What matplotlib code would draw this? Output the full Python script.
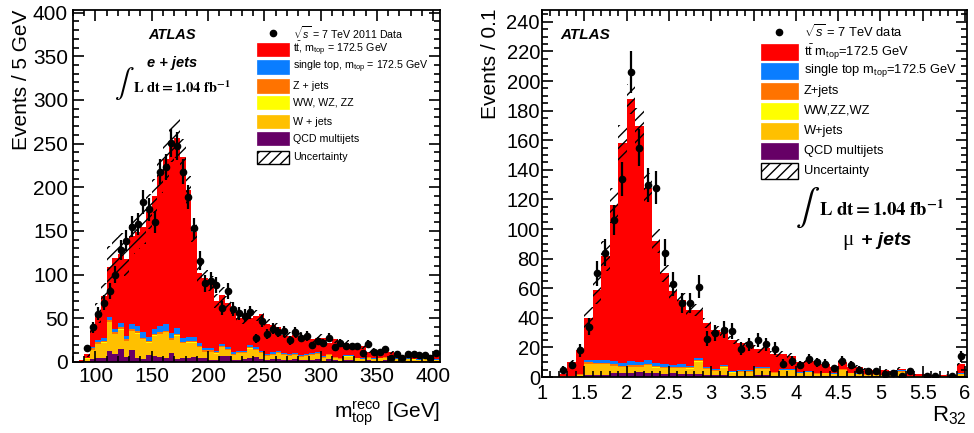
import numpy as np
import matplotlib
matplotlib.use('Agg')
import matplotlib.pyplot as plt
from matplotlib.patches import Rectangle
from matplotlib.ticker import MultipleLocator, FuncFormatter

plt.rcParams['font.family'] = ['Liberation Sans', 'DejaVu Sans']
plt.rcParams['mathtext.fontset'] = 'custom'
plt.rcParams['mathtext.rm'] = 'Liberation Sans'
plt.rcParams['mathtext.it'] = 'Liberation Sans:italic'
plt.rcParams['mathtext.bf'] = 'Liberation Sans:bold'
plt.rcParams['hatch.linewidth'] = 1.0
plt.rcParams['hatch.color'] = 'black'

# colours of the stack (bottom to top)
col_qcd = '#660066'
col_w = '#ffc000'
col_vv = '#ffff00'
col_z = '#ff7300'
col_st = '#0a7dff'
col_tt = '#ff0000'

# ---------------- e + jets : m_top reco, 5 GeV bins from 80 GeV ----------------
left_edges = np.arange(80, 410, 5)

left_data = [0, 0, 16, 40, 55, 68, 81, 100, 128, 139,
             155, 158, 183, 175, 160, 218, 223, 251, 247, 218,
             189, 153, 116, 90, 93, 88, 62, 81, 61, 56,
             53, 57, 27, 47, 32, 38, 34, 35, 25, 34,
             28, 30, 19, 24, 22, 28, 17, 22, 18, 18,
             18, 10, 21, 11, 11, 15, 4, 9, 5, 9,
             9, 8, 8, 5, 10]

left_qcd = [0, 0.3, 1, 3, 4, 4.5, 13, 9, 14.5, 5.5,
            13.5, 5, 3, 7.5, 6.5, 5.5, 4, 10, 3, 4,
            5, 5.5, 5, 4, 2.5, 2.5, 6.5, 6.5, 2, 2.5,
            3.5, 5, 5.5, 3, 2, 3, 3.5, 2.5, 2, 3,
            2, 2.5, 2, 3, 1.5, 3, 2, 1.5, 2.5, 2,
            1.5, 1, 2, 1, 1.5, 2.5, 1, 1.5, 1, 1,
            1, 1, 1.5, 1, 1]

left_wjets = [0, 0.5, 2.9, 10.8, 16.7, 17.7, 32.6, 22.6, 22.6, 18.2,
              22.1, 27.6, 23.2, 14.7, 23.7, 26.7, 30.2, 15.2, 27.2, 17.2,
              17.2, 16.7, 11.7, 7.7, 9.2, 7.2, 10.2, 7.2, 6.3, 7.8,
              6.8, 10.3, 8.3, 6.8, 4.8, 5.3, 6.8, 5.3, 5.0, 5.0,
              4.0, 4.5, 6.0, 6.0, 3.5, 5.0, 2.7, 2.3, 3.7, 4.2,
              2.5, 2.0, 3.0, 2.0, 2.5, 2.5, 1.8, 1.8, 1.3, 2.3,
              1.8, 1.3, 1.8, 1.3, 1.3]

left_diboson = [0, 0, 0.1, 0.2, 0.3, 0.3, 0.4, 0.4, 0.4, 0.3,
                0.4, 0.4, 0.3, 0.3, 0.3, 0.3, 0.3, 0.3, 0.3, 0.3,
                0.3, 0.3, 0.3, 0.3, 0.3, 0.3, 0.3, 0.3, 0.2, 0.2,
                0.2, 0.2, 0.2, 0.2, 0.2, 0.2, 0.2, 0.2, 0.2, 0.2,
                0.2, 0.2, 0.2, 0.2, 0.1, 0.1, 0.1, 0.1, 0.1, 0.1,
                0.1, 0.1, 0.1, 0.1, 0.1, 0.1, 0.1, 0.1, 0.1, 0.1,
                0.1, 0.1, 0.1, 0.1, 0.1]

left_zjets = [0, 0.1, 0.5, 1.5, 2, 2, 2, 2, 2.5, 2,
              2, 2, 1.5, 1.5, 1.5, 1.5, 1.5, 1.5, 1.5, 1.5,
              1.5, 1.5, 1.5, 1.5, 1.5, 1, 1.5, 1, 1, 1,
              1, 1.5, 1, 1, 1, 1, 1, 1, 0.8, 0.8,
              0.8, 0.8, 0.8, 0.8, 0.6, 0.6, 0.5, 0.5, 0.5, 0.5,
              0.4, 0.4, 0.4, 0.4, 0.4, 0.4, 0.3, 0.3, 0.3, 0.3,
              0.3, 0.3, 0.3, 0.3, 0.3]

left_stop = [0, 0.1, 0.5, 1.5, 2, 2.5, 4, 4, 5, 4,
             5, 6, 6, 5, 6, 7, 7, 6, 7, 5,
             5, 5, 3.5, 2.5, 2.5, 2, 2.5, 2, 1.5, 1.5,
             1.5, 2, 2, 1.5, 1, 1.5, 1.5, 1, 1, 1,
             1, 1, 1, 1, 0.8, 0.8, 0.7, 0.6, 0.7, 0.7,
             0.5, 0.5, 0.5, 0.5, 0.5, 0.5, 0.3, 0.3, 0.3, 0.3,
             0.3, 0.3, 0.3, 0.3, 0.3]

left_ttbar = [0.5, 1, 4, 20, 31, 49, 57, 81, 79, 88,
              101, 108, 121, 143, 152, 173, 189, 218, 217, 207,
              168, 120, 80, 80, 74, 57, 56, 51, 51, 37,
              37, 31, 36, 42.5, 35, 31, 27, 21, 21, 21,
              22, 20, 16, 17, 21.5, 12.5, 20, 15, 14.5, 10.5,
              13, 14, 6, 10, 8, 7, 7.5, 5, 4, 5,
              6.5, 6, 5, 5, 5]

left_unc = [0, 1, 3, 8, 11, 14, 24, 24, 24, 20,
            20, 20, 20, 20, 20, 20, 22, 22, 22, 20,
            16, 12, 10, 9, 9, 8, 9, 8, 7, 6,
            6, 6, 6, 6, 5, 5, 5, 4, 4, 4,
            4, 4, 4, 4, 4, 3, 4, 3, 3, 3,
            3, 3, 2, 2, 2, 2, 2, 2, 1.5, 1.5,
            1.5, 1.5, 1.5, 1.5, 1.5]

# ---------------- mu + jets : R32, 0.1 bins from 1 to 6 ----------------
right_edges = np.linspace(1.0, 6.0, 51)

right_data = [0, 0, 5, 8, 18, 34, 70, 84, 106, 134,
              206, 155, 130, 128, 84, 63, 50, 50, 61, 26,
              30, 32, 31, 19, 22, 25, 22, 19, 9, 11,
              8, 12, 10, 9, 6, 11, 8, 5, 4, 4,
              2, 3, 1, 4, 0, 1, 1, 0, 1, 14]

right_qcd = [0, 0, 0.1, 0.3, 0.5, 1.5, 1.5, 1.5, 2.5, 2.5,
             2.5, 3.5, 3, 2.5, 2, 2.5, 2, 2, 2, 1.5,
             1.5, 1.5, 0.8, 1, 1, 1.5, 1.5, 0.8, 1, 1,
             0.8, 0.8, 0.6, 0.7, 0.5, 1, 0.6, 0.5, 0.4, 0.4,
             0.3, 0.3, 0.5, 0.2, 0.1, 0.1, 0.1, 0.1, 0.1, 0.5]

right_wjets = [0, 0, 0.25, 0.4, 0.95, 7.3, 7.1, 7.0, 5.0, 4.0,
               4.4, 3.4, 4.8, 3.9, 4.0, 3.3, 4.1, 3.6, 8.3, 3.7,
               2.7, 4.9, 2.2, 2.4, 2.4, 4.0, 3.7, 1.9, 3.5, 3.5,
               1.8, 2.4, 1.5, 1.7, 1.5, 3.7, 1.9, 1.5, 1.1, 1.1,
               0.9, 0.9, 2.7, 0.55, 0.35, 0.35, 0.3, 0.3, 0.2, 1.4]

right_diboson = [0, 0, 0, 0, 0.05, 0.2, 0.2, 0.2, 0.2, 0.2,
                 0.2, 0.2, 0.2, 0.2, 0.2, 0.2, 0.2, 0.2, 0.2, 0.2,
                 0.1, 0.2, 0.1, 0.1, 0.1, 0.1, 0.1, 0.1, 0.1, 0.1,
                 0.1, 0.1, 0.1, 0.1, 0.1, 0.1, 0.1, 0.1, 0.1, 0.1,
                 0.1, 0.1, 0.5, 0.05, 0, 0, 0, 0, 0, 0.1]

right_zjets = [0, 0, 0.05, 0.1, 0.2, 1, 1, 1, 0.8, 0.8,
               0.8, 0.8, 0.8, 0.8, 0.8, 0.7, 0.7, 0.7, 1, 0.6,
               0.5, 0.6, 0.4, 0.4, 0.4, 0.5, 0.5, 0.3, 0.4, 0.4,
               0.3, 0.3, 0.2, 0.2, 0.2, 0.4, 0.2, 0.2, 0.2, 0.2,
               0.1, 0.1, 0.5, 0.1, 0.05, 0.05, 0.05, 0.05, 0.05, 0.2]

right_stop = [0, 0, 0.1, 0.2, 0.3, 1.5, 1.5, 1.8, 2, 2.3,
              3, 2.5, 2.5, 2, 1.5, 1.5, 1.5, 1, 1.5, 1,
              0.8, 0.8, 0.5, 0.6, 0.6, 0.7, 0.7, 0.4, 0.5, 0.5,
              0.3, 0.4, 0.3, 0.3, 0.2, 0.4, 0.2, 0.2, 0.2, 0.2,
              0.1, 0.1, 0.3, 0.1, 0.1, 0.1, 0.05, 0.05, 0.05, 0.3]

right_ttbar = [0, 0, 1.5, 9, 16, 28.5, 47.7, 70.1, 105.5, 148.2,
               176.8, 159.1, 116.7, 82.6, 61.5, 49.8, 43.5, 38, 32.5, 29.5,
               25.9, 22.4, 21, 18.5, 16.9, 12.2, 13.3, 12.3, 10.3, 8.5,
               6.7, 7, 8.1, 5.6, 4.3, 4.4, 3.8, 4.3, 3.6, 3,
               3, 2.5, 1.1, 1.7, 1.2, 1.2, 0.9, 0.9, 0.7, 6.1]

right_unc = [0, 0, 0.3, 1.5, 2.5, 7, 10, 10, 12, 12,
             10, 12, 10, 8, 6, 5, 4.5, 4, 4, 3.5,
             3, 3, 2.5, 2.5, 2.5, 2.5, 2.5, 2, 2, 2,
             1.5, 1.5, 1.5, 1.2, 1, 1.5, 1, 1, 0.8, 0.8,
             0.8, 0.7, 1.2, 0.5, 0.3, 0.3, 0.3, 0.3, 0.3, 1.2]


def draw_stack(ax, edges, layers, unc, data):
    base = np.zeros(len(edges) - 1)
    for vals, col in layers:
        vals = np.asarray(vals, float)
        ax.stairs(base + vals, edges, baseline=base.copy(), fill=True,
                  color=col, lw=0)
        base = base + vals
    unc = np.asarray(unc, float)
    ax.stairs(base + unc, edges, baseline=base - unc, fill=True,
              facecolor='none', edgecolor='black', hatch='///', lw=0)
    data = np.asarray(data, float)
    centers = 0.5 * (edges[1:] + edges[:-1])
    m = data > 0
    ax.errorbar(centers[m], data[m], yerr=np.sqrt(data[m]), fmt='o',
                color='black', ms=4.5, elinewidth=1.6, capsize=0, zorder=5)


def legend_rows(ax, rows, ys, x_box, w_box, h_box, x_text, fs):
    for (kind, col, label), y in zip(rows, ys):
        if kind == 'data':
            ax.plot([x_box + w_box / 2], [y], 'o', color='black', ms=4.5,
                    transform=ax.transAxes, clip_on=False)
        elif kind == 'hatch':
            ax.add_patch(Rectangle((x_box, y - h_box / 2), w_box, h_box,
                                   transform=ax.transAxes, facecolor='white',
                                   edgecolor='black', hatch='///', lw=1))
        else:
            ax.add_patch(Rectangle((x_box, y - h_box / 2), w_box, h_box,
                                   transform=ax.transAxes, facecolor=col,
                                   edgecolor=col, lw=0.5))
        ax.text(x_text, y, label, transform=ax.transAxes, fontsize=fs,
                va='center', ha='left')


def style_axes(ax):
    ax.tick_params(which='both', direction='in', top=True, right=True, width=1.2)
    ax.tick_params(which='major', length=8, labelsize=15)
    ax.tick_params(which='minor', length=4)
    for s in ax.spines.values():
        s.set_linewidth(1.3)


fig = plt.figure(figsize=(9.74, 4.33), dpi=100)
axL = fig.add_axes([0.0749, 0.164, 0.3768, 0.813])
axR = fig.add_axes([0.5565, 0.1293, 0.436, 0.8476])

# ---- left panel ----
draw_stack(axL, left_edges,
           [(left_qcd, col_qcd), (left_wjets, col_w), (left_diboson, col_vv),
            (left_zjets, col_z), (left_stop, col_st), (left_ttbar, col_tt)],
           left_unc, left_data)
axL.set_xlim(80, 406)
axL.set_ylim(0, 403)
axL.xaxis.set_major_locator(MultipleLocator(50))
axL.xaxis.set_minor_locator(MultipleLocator(10))
axL.yaxis.set_major_locator(MultipleLocator(50))
axL.yaxis.set_minor_locator(MultipleLocator(10))
style_axes(axL)

axL.text(-0.139, 1.0, 'Events / 5 GeV', rotation=90, ha='center', va='top',
         transform=axL.transAxes, fontsize=15)
axL.text(1.0, -0.105, r'$\mathregular{m_{top}^{reco}}$ [GeV]', ha='right',
         va='top', transform=axL.transAxes, fontsize=15)
axL.text(0.27, 0.929, 'ATLAS', ha='center', va='center', transform=axL.transAxes,
         fontsize=10.5, fontweight='bold', fontstyle='italic')
axL.text(0.27, 0.849, 'e + jets', ha='center', va='center', transform=axL.transAxes,
         fontsize=10.5, fontweight='bold', fontstyle='italic')
axL.text(0.139, 0.79, r'$\int$', ha='center', va='center', transform=axL.transAxes,
         fontsize=21, math_fontfamily='stix')
axL.text(0.163, 0.778, r'$\mathbf{L\ dt = 1.04\ fb^{-1}}$', ha='left', va='center',
         transform=axL.transAxes, fontsize=10.5, math_fontfamily='stix')

left_rows = [('data', None, r'$\sqrt{s}$ = 7 TeV 2011 Data'),
             ('box', col_tt, r't$\bar{\mathrm{t}}$, m$_{\mathrm{top}}$ = 172.5 GeV'),
             ('box', col_st, r'single top, m$_{\mathrm{top}}$ = 172.5 GeV'),
             ('box', col_z, 'Z + jets'),
             ('box', col_vv, 'WW, WZ, ZZ'),
             ('box', col_w, 'W + jets'),
             ('box', col_qcd, 'QCD multijets'),
             ('hatch', None, 'Uncertainty')]
legend_rows(axL, left_rows, [0.935, 0.889, 0.838, 0.784, 0.736, 0.682, 0.634, 0.582],
            0.501, 0.088, 0.037, 0.600, 7.7)

# ---- right panel ----
draw_stack(axR, right_edges,
           [(right_qcd, col_qcd), (right_wjets, col_w), (right_diboson, col_vv),
            (right_zjets, col_z), (right_stop, col_st), (right_ttbar, col_tt)],
           right_unc, right_data)
axR.set_xlim(1, 6.02)
axR.set_ylim(0, 248)
axR.xaxis.set_major_locator(MultipleLocator(0.5))
axR.xaxis.set_minor_locator(MultipleLocator(0.1))
axR.yaxis.set_major_locator(MultipleLocator(20))
axR.yaxis.set_minor_locator(MultipleLocator(5))
axR.xaxis.set_major_formatter(FuncFormatter(lambda v, p: '%g' % v))
style_axes(axR)
axR.tick_params(axis='y', pad=1.5, labelsize=14.5)
axR.tick_params(axis='x', pad=5, labelsize=14.5)

axR.text(-0.121, 1.005, 'Events / 0.1', rotation=90, ha='center', va='top',
         transform=axR.transAxes, fontsize=15)
axR.text(1.0, -0.074, r'$\mathregular{R_{32}}$', ha='right', va='top',
         transform=axR.transAxes, fontsize=16)
axR.text(0.102, 0.932, 'ATLAS', ha='center', va='center', transform=axR.transAxes,
         fontsize=11, fontweight='bold', fontstyle='italic')
axR.text(0.626, 0.46, r'$\int$', ha='center', va='center', transform=axR.transAxes,
         fontsize=26, math_fontfamily='stix')
axR.text(0.653, 0.455, r'$\mathbf{L\ dt = 1.04\ fb^{-1}}$', ha='left', va='center',
         transform=axR.transAxes, fontsize=13.5, math_fontfamily='stix')
axR.text(0.721, 0.373, 'μ', ha='center', va='center', transform=axR.transAxes,
         fontsize=15, family='Liberation Serif')
axR.text(0.751, 0.373, '+ jets', ha='left', va='center', transform=axR.transAxes,
         fontsize=14, fontweight='bold', fontstyle='italic')

right_rows = [('data', None, r'$\sqrt{s}$ = 7 TeV data'),
              ('box', col_tt, r't$\bar{\mathrm{t}}$ m$_{\mathrm{top}}$=172.5 GeV'),
              ('box', col_st, r'single top m$_{\mathrm{top}}$=172.5 GeV'),
              ('box', col_z, 'Z+jets'),
              ('box', col_vv, 'WW,ZZ,WZ'),
              ('box', col_w, 'W+jets'),
              ('box', col_qcd, 'QCD multijets'),
              ('hatch', None, 'Uncertainty')]
legend_rows(axR, right_rows, [0.940, 0.886, 0.834, 0.779, 0.725, 0.670, 0.616, 0.561],
            0.516, 0.086, 0.044, 0.616, 9.3)

fig.savefig('out.png', dpi=100)
